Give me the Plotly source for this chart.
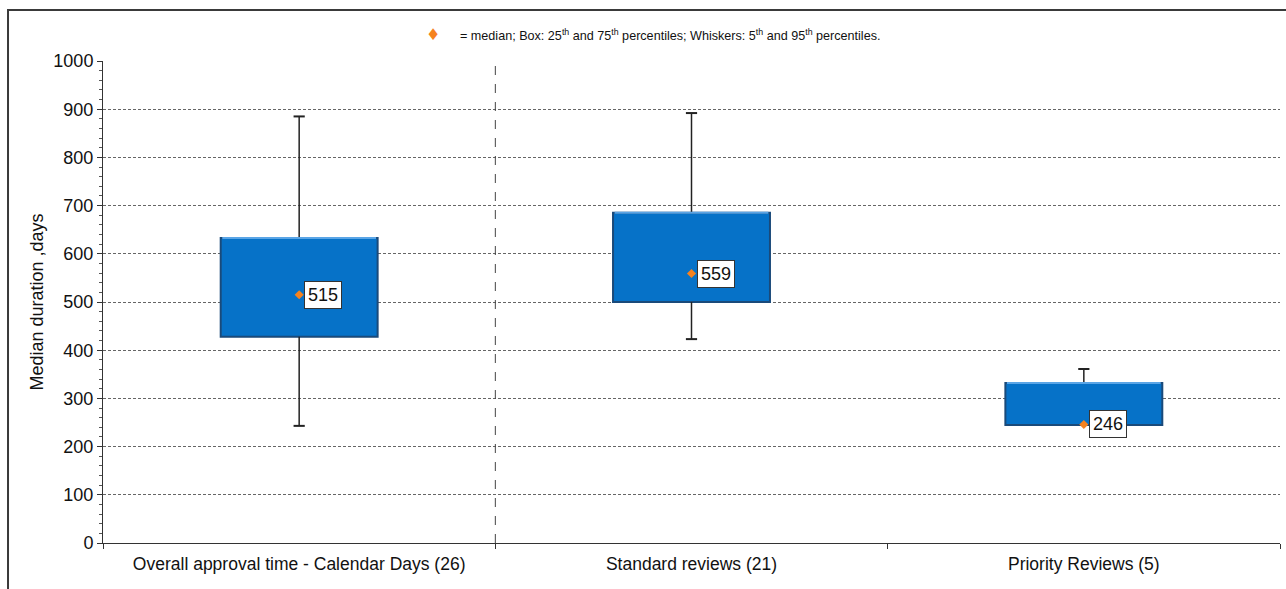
import plotly.graph_objects as go

# Approval durations (days) per review group
categories = ["Overall approval time - Calendar Days (26)", "Standard reviews (21)", "Priority Reviews (5)"]
p5 = [243, 423, 245]
q1 = [428, 500, 245]
median = [515, 559, 246]
q3 = [633, 685, 332]
p95 = [885, 892, 361]

BOX_FILL = "#0672C8"
BOX_EDGE = "#1A4A7A"
BOX_HIGHLIGHT = "#5AA5E6"
WHISKER = "#222222"
ORANGE = "#F5821F"
FONT = "Liberation Sans, Arial, sans-serif"
BOX_WIDTH = 0.4

fig = go.Figure()

# Boxes: 25th to 75th percentile
fig.add_trace(go.Bar(
    x=categories,
    y=[b - a for a, b in zip(q1, q3)],
    base=q1,
    width=BOX_WIDTH,
    marker=dict(color=BOX_FILL, line=dict(color=BOX_EDGE, width=2)),
    hoverinfo="skip",
))

# Light bevel along the top edge of each box
for c, b in zip(categories, q3):
    fig.add_shape(
        type="line", xref="x", yref="y", x0=c, x1=c, y0=b, y1=b,
        x0shift=-BOX_WIDTH / 2 + 0.004, x1shift=BOX_WIDTH / 2 - 0.004,
        line=dict(color=BOX_HIGHLIGHT, width=2),
    )

# Whisker stems outside the boxes
stem_x, stem_y = [], []
cap_x, cap_y = [], []
for c, lo, a, b, hi in zip(categories, p5, q1, q3, p95):
    if hi > b:
        stem_x += [c, c, None]
        stem_y += [b, hi, None]
        cap_x.append(c)
        cap_y.append(hi)
    if lo < a:
        stem_x += [c, c, None]
        stem_y += [lo, a, None]
        cap_x.append(c)
        cap_y.append(lo)

fig.add_trace(go.Scatter(
    x=stem_x, y=stem_y, mode="lines",
    line=dict(color=WHISKER, width=1.5), hoverinfo="skip",
))
fig.add_trace(go.Scatter(
    x=cap_x, y=cap_y, mode="markers",
    marker=dict(symbol="line-ew", size=8, line=dict(color=WHISKER, width=2)),
    hoverinfo="skip",
))

# Medians
fig.add_trace(go.Scatter(
    x=categories, y=median, mode="markers",
    marker=dict(symbol="diamond", size=7, color=ORANGE),
    hoverinfo="skip",
))

for c, m in zip(categories, median):
    fig.add_annotation(
        x=c, y=m, xref="x", yref="y", text=str(m), showarrow=False,
        xanchor="left", yanchor="middle", xshift=5,
        bgcolor="white", bordercolor="#333333", borderwidth=1, borderpad=3,
        font=dict(family=FONT, size=18, color="#111111"),
    )

# Key above the plot
fig.add_annotation(
    x=0.2804, y=1.056, xref="paper", yref="paper", text="♦", showarrow=False,
    xanchor="center", yanchor="middle",
    font=dict(family="DejaVu Sans", size=16, color=ORANGE),
)
fig.add_annotation(
    x=0.3016, y=1.054, xref="paper", yref="paper",
    text="= median; Box: 25<sup>th</sup> and 75<sup>th</sup> percentiles; "
         "Whiskers: 5<sup>th</sup> and 95<sup>th</sup> percentiles.",
    showarrow=False, xanchor="left", yanchor="middle",
    font=dict(family=FONT, size=12.6, color="#111111"),
)

# Divider between overall and split groups
fig.add_shape(
    type="line", xref="x", yref="paper", x0=0.5, x1=0.5, y0=0, y1=1,
    line=dict(color="#444444", width=1, dash="dash"),
)

# Outer frame
fig.add_shape(
    type="rect", xref="paper", yref="paper",
    x0=-0.0807, x1=1.2, y0=-0.3, y1=1.1058,
    line=dict(color="#3a3a3a", width=2), fillcolor="rgba(0,0,0,0)", layer="below",
)

fig.update_layout(
    width=1286, height=589,
    margin=dict(l=103, r=6, t=61, b=46),
    paper_bgcolor="white", plot_bgcolor="white",
    showlegend=False,
    font=dict(family=FONT, color="#111111"),
    bargap=0.6,
)

fig.update_xaxes(
    type="category",
    range=[-0.5, 2.5],
    tickson="boundaries",
    ticks="outside", ticklen=5, tickcolor="#333333",
    showline=True, linecolor="#333333", linewidth=1,
    showgrid=False,
    tickfont=dict(family=FONT, size=17.5, color="#111111"),
    ticklabelstandoff=5,
)

fig.update_yaxes(
    range=[0, 1000], dtick=100,
    ticks="outside", ticklen=5, tickcolor="#333333",
    minor=dict(dtick=20, ticks="outside", ticklen=3, tickcolor="#555555", showgrid=False),
    showline=True, linecolor="#333333", linewidth=1,
    showgrid=True, gridcolor="#666666", gridwidth=1, griddash="3px,2px",
    zeroline=False,
    tickfont=dict(family=FONT, size=18, color="#111111"),
    title=dict(text="Median duration ,days", font=dict(family=FONT, size=18, color="#111111"), standoff=5),
)

fig.write_html("out.html")
